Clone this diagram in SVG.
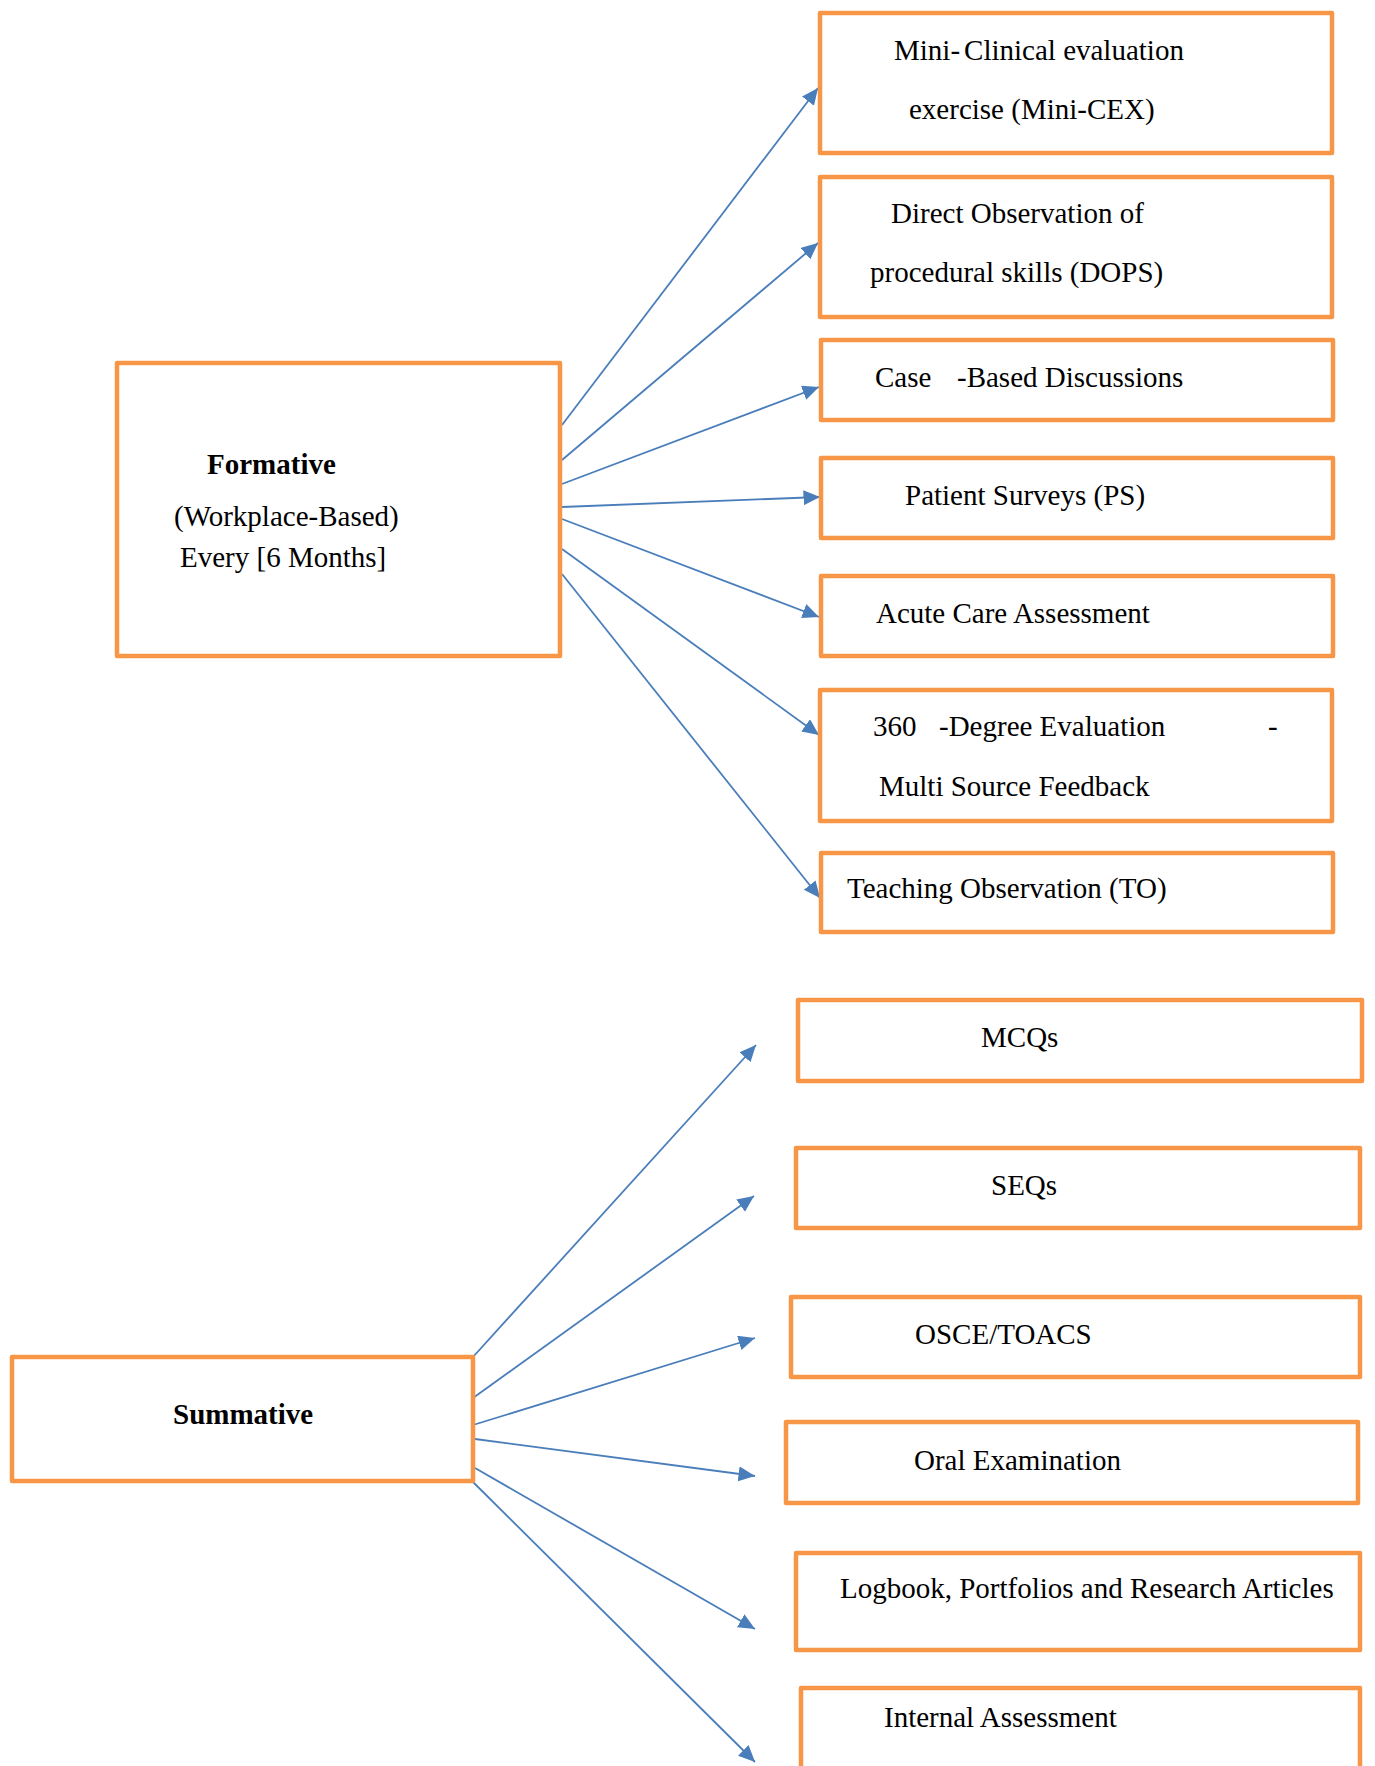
<svg xmlns="http://www.w3.org/2000/svg" width="1375" height="1766" viewBox="0 0 1375 1766">
<style>
.box{fill:#FFFFFF;stroke:#F79646;stroke-width:4.5;stroke-linejoin:round}
.t{font-family:"Liberation Serif","Times New Roman",serif;font-size:29px;fill:#000}
.b{font-weight:bold}
.c{fill:none;stroke:#4A7EBB;stroke-width:1.8}
</style>
<defs>
<marker id="ah" markerUnits="userSpaceOnUse" markerWidth="17" markerHeight="16" refX="16.5" refY="7.5" orient="auto">
<path d="M0,0 L16.5,7.5 L0,15 Z" fill="#4A7EBB"/>
</marker>
</defs>
<rect width="1375" height="1766" fill="#FFFFFF"/>

<g id="connectors">
<path class="c" d="M562,425 L818,88" marker-end="url(#ah)"/>
<path class="c" d="M562,460 L818,243" marker-end="url(#ah)"/>
<path class="c" d="M562,484 L819,387" marker-end="url(#ah)"/>
<path class="c" d="M562,507 L820,497" marker-end="url(#ah)"/>
<path class="c" d="M562,519 L819,617" marker-end="url(#ah)"/>
<path class="c" d="M562,549 L819,735" marker-end="url(#ah)"/>
<path class="c" d="M562,574 L820,898" marker-end="url(#ah)"/>
<path class="c" d="M473,1357 L756,1045" marker-end="url(#ah)"/>
<path class="c" d="M473,1398 L754,1196" marker-end="url(#ah)"/>
<path class="c" d="M473,1425 L755,1338" marker-end="url(#ah)"/>
<path class="c" d="M475,1439 L755,1476" marker-end="url(#ah)"/>
<path class="c" d="M475,1468 L755,1629" marker-end="url(#ah)"/>
<path class="c" d="M473,1482 L755,1762" marker-end="url(#ah)"/>
</g>

<g id="formative">
<rect class="box" x="117" y="363" width="443" height="293"/>
<text class="t b" x="207" y="474">Formative</text>
<text class="t" x="174" y="526">(Workplace-Based)</text>
<text class="t" x="180" y="567">Every [6 Months]</text>
</g>

<g id="mini-cex">
<rect class="box" x="820" y="13" width="512" height="140"/>
<text class="t" x="894" y="60">Mini-<tspan dx="4">Clinical evaluation</tspan></text>
<text class="t" x="909" y="119">exercise (Mini-CEX)</text>
</g>

<g id="dops">
<rect class="box" x="820" y="177" width="512" height="140"/>
<text class="t" x="891" y="223">Direct Observation of</text>
<text class="t" x="870" y="282">procedural skills (DOPS)</text>
</g>

<g id="cbd">
<rect class="box" x="821" y="340" width="512" height="80"/>
<text class="t" x="875" y="387">Case<tspan x="957">-Based Discussions</tspan></text>
</g>

<g id="ps">
<rect class="box" x="821" y="458" width="512" height="80"/>
<text class="t" x="905" y="505">Patient Surveys (PS)</text>
</g>

<g id="acute">
<rect class="box" x="821" y="576" width="512" height="80"/>
<text class="t" x="876" y="623">Acute Care Assessment</text>
</g>

<g id="msf">
<rect class="box" x="820" y="690" width="512" height="131"/>
<text class="t" x="873" y="736">360<tspan x="939">-Degree Evaluation</tspan><tspan x="1268">-</tspan></text>
<text class="t" x="879" y="796">Multi Source Feedback</text>
</g>

<g id="to">
<rect class="box" x="821" y="853" width="512" height="79"/>
<text class="t" x="847" y="898">Teaching Observation (TO)</text>
</g>

<g id="summative">
<rect class="box" x="12" y="1357" width="461" height="124"/>
<text class="t b" x="173" y="1424">Summative</text>
</g>

<g id="mcqs">
<rect class="box" x="798" y="1000" width="564" height="81"/>
<text class="t" x="981" y="1047">MCQs</text>
</g>

<g id="seqs">
<rect class="box" x="796" y="1148" width="564" height="80"/>
<text class="t" x="991" y="1195">SEQs</text>
</g>

<g id="osce">
<rect class="box" x="791" y="1297" width="569" height="80"/>
<text class="t" x="915" y="1344">OSCE/TOACS</text>
</g>

<g id="oral">
<rect class="box" x="786" y="1422" width="572" height="81"/>
<text class="t" x="914" y="1470">Oral Examination</text>
</g>

<g id="logbook">
<rect class="box" x="796" y="1553" width="564" height="97"/>
<text class="t" x="840" y="1598">Logbook, Portfolios and Research Articles</text>
</g>

<g id="internal">
<rect class="box" x="801" y="1688" width="559" height="100"/>
<text class="t" x="884" y="1727">Internal Assessment</text>
</g>
</svg>
